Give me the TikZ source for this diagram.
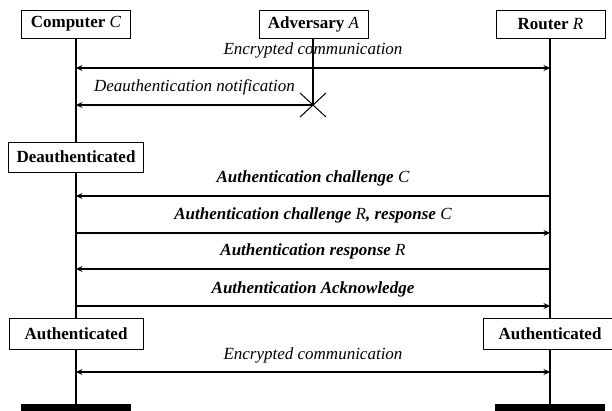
\documentclass[tikz,border=0pt]{standalone}
\usepackage{fontspec}
\setmainfont{Liberation Serif}
\usetikzlibrary{arrows.meta,calc}
\newcommand{\agent}[1]{\textnormal{\itshape #1}}
\begin{document}
\begin{tikzpicture}[x=1pt,y=-1pt,
  font=\fontsize{17}{20}\selectfont,
  actor/.style={draw, fill=white, line width=0.9pt, minimum width=109pt, minimum height=28pt, inner xsep=8pt, inner ysep=0pt, font=\fontsize{17}{20}\selectfont\bfseries},
  state/.style={actor, minimum width=134pt, minimum height=30pt},
  bar/.style={fill=black, minimum width=110pt, minimum height=12pt, inner sep=0pt},
  life/.style={line width=1.3pt},
  tip/.tip={Stealth[length=6.5pt,width=6pt,inset=2.2pt]},
  msg/.style={line width=1.1pt, -tip},
  both/.style={line width=1.1pt, tip-tip},
  lbl/.style={anchor=base, yshift=13pt, inner sep=0pt},
  blbl/.style={lbl, font=\fontsize{17}{20}\selectfont\bfseries\itshape},
  ilbl/.style={lbl, font=\fontsize{17}{20}\selectfont\itshape},
  ]
\useasboundingbox (0,0) rectangle (612,411);
\clip (0,0) rectangle (612,411);

% actors
\node[actor] (C) at (76,24) {Computer \agent{C}};
\node[actor] (A) at (313.5,24) {Adversary \agent{A}};
\node[actor] (R) at (550.5,24) {Router \agent{R}};

% end bars
\node[bar] (Cbar) at (76,410) {};
\node[bar] (Rbar) at (550,410) {};

% message coordinates
\coordinate (c1) at (76,68);   \coordinate (r1) at (550,68);
\coordinate (c2) at (76,105);  \coordinate (x)  at (313,105);
\coordinate (c3) at (76,196);  \coordinate (r3) at (550,196);
\coordinate (c4) at (76,233);  \coordinate (r4) at (550,233);
\coordinate (c5) at (76,269);  \coordinate (r5) at (550,269);
\coordinate (c6) at (76,306);  \coordinate (r6) at (550,306);
\coordinate (c7) at (76,372);  \coordinate (r7) at (550,372);

% lifelines
\draw[life] (C.south) -- (Cbar.north);
\draw[life] (R.south -| Rbar.north) -- (Rbar.north);
\draw[life] (A.south -| x) -- (x);

% cross
\draw[line width=1pt] ($(x)+(-13,-12)$) -- ($(x)+(13,12)$);
\draw[line width=1pt] ($(x)+(-13,12)$) -- ($(x)+(13,-12)$);

% messages
\draw[both] (c1) -- node[ilbl] {Encrypted communication} (r1);
\draw[msg] (x) -- node[ilbl] {Deauthentication notification} (c2);
\draw[msg] (r3) -- node[blbl] {Authentication challenge \agent{C}} (c3);
\draw[msg] (c4) -- node[blbl] {Authentication challenge \agent{R}, response \agent{C}} (r4);
\draw[msg] (r5) -- node[blbl] {Authentication response \agent{R}} (c5);
\draw[msg] (c6) -- node[blbl] {Authentication Acknowledge} (r6);
\draw[both] (c7) -- node[ilbl] {Encrypted communication} (r7);

% states
\node[state] (deauth) at (76,157) {Deauthenticated};
\node[state, minimum height=31pt] (authC) at (76,333.5) {Authenticated};
\node[state, minimum height=31pt] (authR) at (550,333.5) {Authenticated};
\end{tikzpicture}
\end{document}
